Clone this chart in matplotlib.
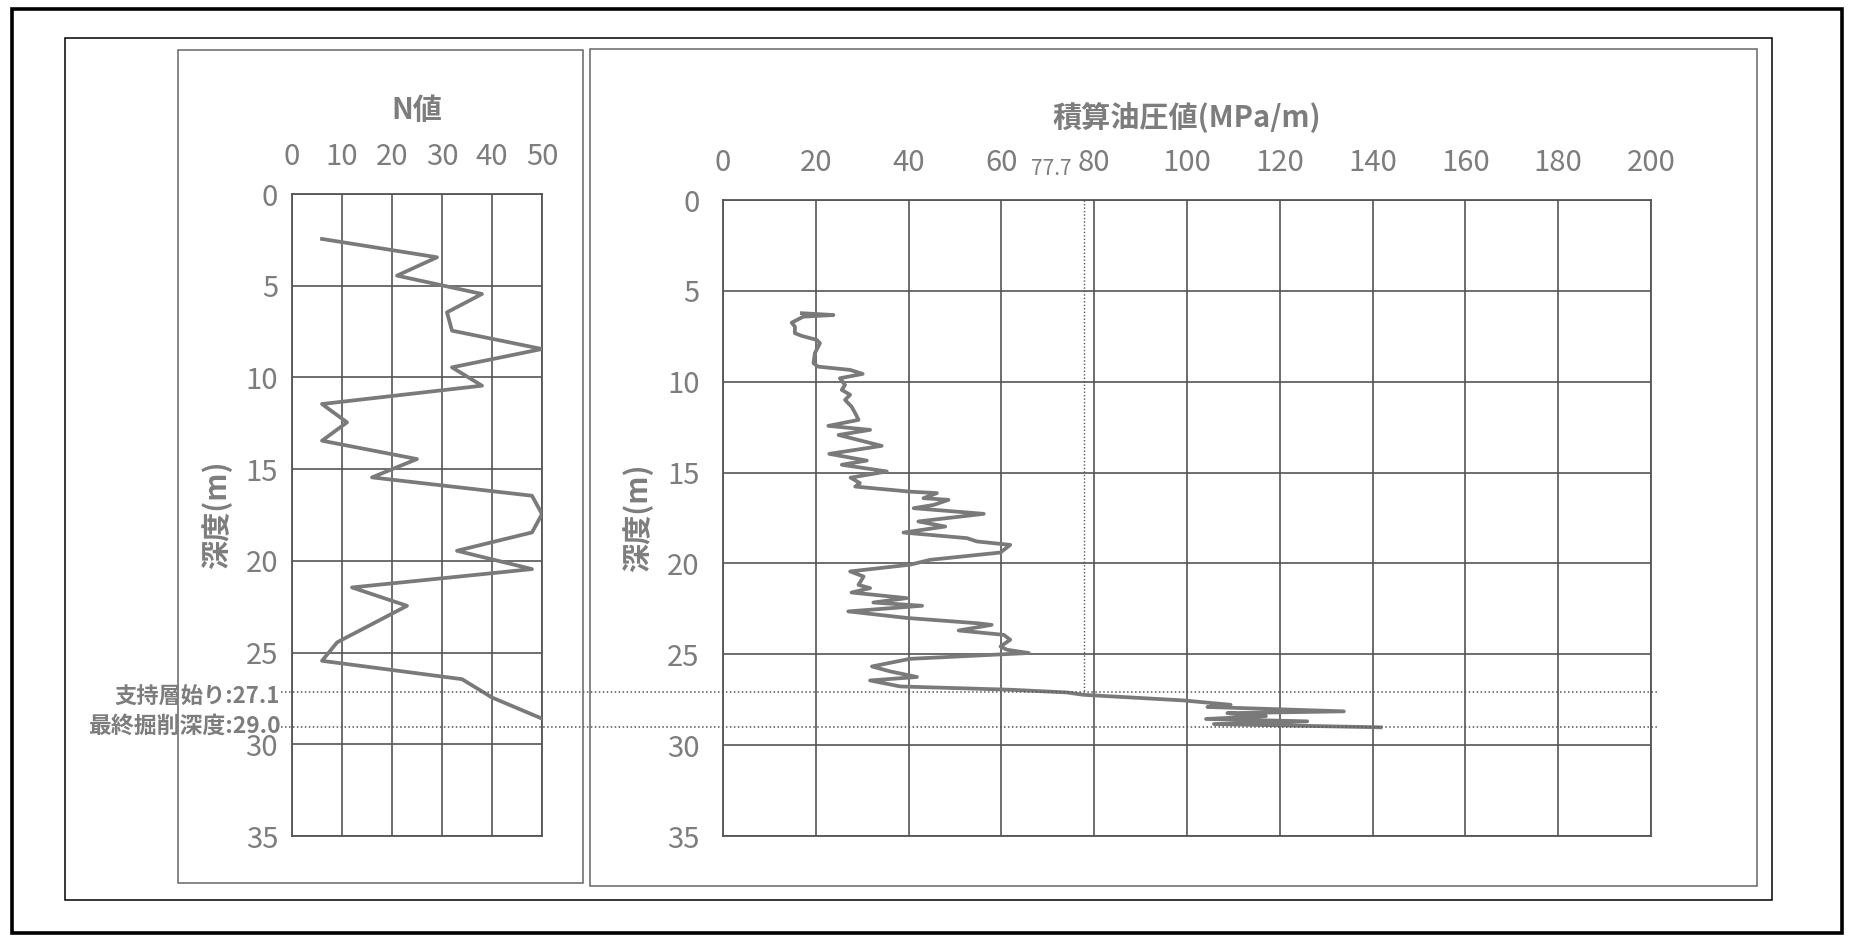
import matplotlib
matplotlib.use("Agg")
import matplotlib.pyplot as plt
from matplotlib.patches import Rectangle

plt.rcParams["font.family"] = ["Noto Sans CJK JP", "DejaVu Sans"]

# ---- data ------------------------------------------------------------------
# N-value (SPT) profile
n_depth = [2.45, 3.45, 4.45, 5.45, 6.45, 7.45, 8.45, 9.45, 10.45, 11.45,
           12.45, 13.45, 14.45, 15.45, 16.45, 17.45, 18.45, 19.45, 20.45,
           21.45, 22.45, 23.45, 24.3, 24.45, 25.45, 26.45, 27.45, 28.6]
n_value = [6, 29, 21, 38, 31, 32, 50, 32, 38, 6,
           11, 6, 25, 16, 48, 50, 48, 33, 48,
           12, 23, 16, 10, 9, 6, 34, 40, 50]

# integrated hydraulic pressure profile (MPa/m)
p_depth = [6.23, 6.33, 6.42, 6.75, 6.97, 7.33, 7.48, 7.70, 7.88, 8.43,
           8.98, 9.17, 9.35, 9.57, 9.81, 10.18, 10.45, 10.72, 11.00, 11.37,
           11.83, 12.10, 12.43, 12.65, 12.93, 13.53, 13.97, 14.34, 14.57, 14.94,
           15.28, 15.58, 15.77, 16.05, 16.13, 16.41, 16.50, 16.78, 16.96, 17.27,
           17.69, 17.97, 18.30, 18.61, 18.79, 18.98, 19.40, 19.80, 20.07, 20.44,
           20.72, 21.18, 21.36, 21.60, 21.91, 22.15, 22.33, 22.64, 23.00, 23.29,
           23.38, 23.69, 23.93, 24.20, 24.57, 24.75, 24.93, 25.25, 25.67, 25.94,
           26.25, 26.44, 26.77, 26.95, 27.10, 27.23, 27.54, 27.78, 27.90, 28.14,
           28.24, 28.40, 28.56, 28.69, 28.84, 29.02]
p_value = [17.0, 23.8, 17.3, 14.8, 15.5, 15.5, 17.0, 20.2, 20.9, 19.8,
           19.5, 20.5, 27.4, 30.1, 25.2, 26.3, 25.6, 27.4, 26.3, 27.7,
           28.7, 29.2, 22.7, 31.7, 24.9, 34.2, 22.9, 31.0, 25.6, 35.3,
           27.5, 29.5, 28.5, 40.3, 46.1, 43.2, 48.6, 45.4, 41.1, 56.2,
           42.1, 47.9, 38.9, 52.6, 54.7, 61.9, 59.8, 44.7, 40.3, 27.4,
           30.3, 29.2, 31.7, 27.7, 39.6, 32.4, 42.9, 27.0, 39.6, 54.7,
           57.9, 50.8, 60.5, 61.9, 59.8, 61.2, 65.9, 40.3, 32.1, 36.0,
           41.8, 31.7, 38.2, 61.9, 74.1, 77.7, 99.3, 109.4, 104.4, 133.8,
           108.7, 117.0, 104.1, 125.9, 105.8, 141.7]

n_ticks = [0, 10, 20, 30, 40, 50]
p_ticks = [0, 20, 40, 60, 80, 100, 120, 140, 160, 180, 200]
depth_ticks = [0, 5, 10, 15, 20, 25, 30, 35]

mean_pressure = 77.7
bearing_top = 27.1
final_depth = 29.0

# ---- style -----------------------------------------------------------------
TXT = "#7d7d7d"
GRID = "#555555"
LINE = "#7a7a7a"

W, H = 1852, 942
fig = plt.figure(figsize=(W / 100, H / 100), dpi=100)


def fx(px):
    return px / W


def fy(py):
    return 1 - py / H


# frames
fig.patches.append(Rectangle((fx(12), fy(933)), fx(1830), 924 / H,
                             transform=fig.transFigure, fill=False,
                             ec="black", lw=2.6))
fig.patches.append(Rectangle((fx(65), fy(900)), fx(1707), 862 / H,
                             transform=fig.transFigure, fill=False,
                             ec="black", lw=1.1))
fig.patches.append(Rectangle((fx(178), fy(883)), fx(405), 833 / H,
                             transform=fig.transFigure, fill=False,
                             ec="#666666", lw=1.1))
fig.patches.append(Rectangle((fx(590), fy(886)), fx(1167), 837 / H,
                             transform=fig.transFigure, fill=False,
                             ec="#666666", lw=1.1))

ax1 = fig.add_axes([fx(292), fy(836), fx(250), 642 / H])
ax2 = fig.add_axes([fx(723), fy(836), fx(928), 636 / H])


def style(ax, xticks, xmax, ypad):
    ax.set_xlim(0, xmax)
    ax.set_ylim(35, 0)
    ax.set_xticks(xticks)
    ax.set_yticks(depth_ticks)
    ax.xaxis.tick_top()
    ax.tick_params(length=0, labelsize=21, colors=TXT)
    ax.tick_params(axis="x", pad=16)
    ax.tick_params(axis="y", pad=ypad)
    ax.grid(True, color=GRID, lw=1.2)
    ax.set_axisbelow(True)
    for s in ax.spines.values():
        s.set_color(GRID)
        s.set_linewidth(1.3)
    ax.set_ylabel("深度(m)", color=TXT, fontsize=21, fontweight="bold",
                  labelpad=10)


style(ax1, n_ticks, 50, 10)
style(ax2, p_ticks, 200, 17)

ax1.plot(n_value, n_depth, color=LINE, lw=2.7, zorder=3)
ax2.plot(p_value, p_depth, color=LINE, lw=2.7, zorder=3)

ax1.set_title("N値", color=TXT, fontsize=21, fontweight="bold", pad=54)
ax2.set_title("積算油圧値(MPa/m)", color=TXT, fontsize=21,
              fontweight="bold", pad=53)

# mean pressure marker
ax2.plot([mean_pressure, mean_pressure], [0, bearing_top], color=GRID,
         lw=1.0, ls=(0, (1, 1.5)), zorder=2)
ax2.text(mean_pressure - 2.5, -1.1, f"{mean_pressure}", color=TXT,
         fontsize=15, ha="right", va="bottom")

# depth markers across both panels
x_start = (281 - 723) / 928 * 200
x_end = (1658 - 723) / 928 * 200
for d in (bearing_top, final_depth):
    ax2.plot([x_start, x_end], [d, d], color=GRID, lw=1.1,
             ls=(0, (1, 1.6)), clip_on=False, zorder=4)

fig.text(fx(280), fy(697), f"支持層始り:{bearing_top}", color=TXT,
         fontsize=16, fontweight="bold", ha="right", va="center")
fig.text(fx(281), fy(726), f"最終掘削深度:{final_depth}", color=TXT,
         fontsize=16.5, fontweight="bold", ha="right", va="center")

fig.savefig("out.png", dpi=100)
